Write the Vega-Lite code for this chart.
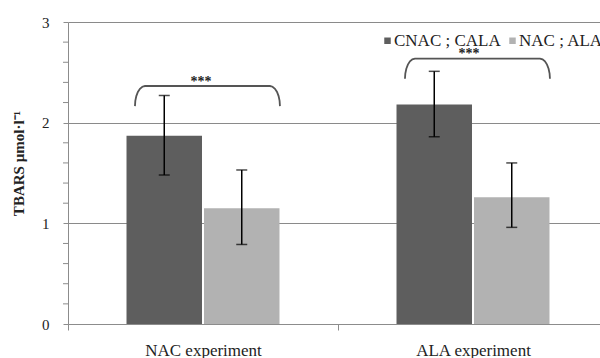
{
  "$schema": "https://vega.github.io/schema/vega-lite/v6.json",
  "autosize": {"type": "none"},
  "padding": {"left": 68, "top": 22, "right": 0, "bottom": 34},
  "width": 532,
  "height": 302,
  "background": "white",
  "config": {
    "view": {"stroke": null},
    "font": "'Liberation Serif', 'Times New Roman', serif"
  },
  "datasets": {
    "bars": [
      {"exp": "NAC experiment", "grp": "CNAC ; CALA", "v": 1.87, "lo": 1.48, "hi": 2.27},
      {"exp": "NAC experiment", "grp": "NAC ; ALA", "v": 1.15, "lo": 0.79, "hi": 1.53},
      {"exp": "ALA experiment", "grp": "CNAC ; CALA", "v": 2.18, "lo": 1.86, "hi": 2.51},
      {"exp": "ALA experiment", "grp": "NAC ; ALA", "v": 1.26, "lo": 0.96, "hi": 1.60}
    ],
    "minor": [{"m": 0.2}, {"m": 0.4}, {"m": 0.6}, {"m": 0.8}, {"m": 1.2}, {"m": 1.4}, {"m": 1.6}, {"m": 1.8}, {"m": 2.2}, {"m": 2.4}, {"m": 2.6}, {"m": 2.8}],
    "brackets": [
      {"b": "NAC", "k": 0, "x": 0.248, "y": 2.164},
      {"b": "NAC", "k": 1, "x": 0.2493, "y": 2.216},
      {"b": "NAC", "k": 2, "x": 0.253, "y": 2.264},
      {"b": "NAC", "k": 3, "x": 0.2588, "y": 2.305},
      {"b": "NAC", "k": 4, "x": 0.2665, "y": 2.337},
      {"b": "NAC", "k": 5, "x": 0.2754, "y": 2.357},
      {"b": "NAC", "k": 6, "x": 0.285, "y": 2.364},
      {"b": "NAC", "k": 7, "x": 0.748, "y": 2.364},
      {"b": "NAC", "k": 8, "x": 0.7576, "y": 2.357},
      {"b": "NAC", "k": 9, "x": 0.7665, "y": 2.337},
      {"b": "NAC", "k": 10, "x": 0.7742, "y": 2.305},
      {"b": "NAC", "k": 11, "x": 0.78, "y": 2.264},
      {"b": "NAC", "k": 12, "x": 0.7837, "y": 2.216},
      {"b": "NAC", "k": 13, "x": 0.785, "y": 2.164},
      {"b": "ALA", "k": 0, "x": 1.248, "y": 2.436},
      {"b": "ALA", "k": 1, "x": 1.2493, "y": 2.488},
      {"b": "ALA", "k": 2, "x": 1.253, "y": 2.536},
      {"b": "ALA", "k": 3, "x": 1.2588, "y": 2.577},
      {"b": "ALA", "k": 4, "x": 1.2665, "y": 2.609},
      {"b": "ALA", "k": 5, "x": 1.2754, "y": 2.629},
      {"b": "ALA", "k": 6, "x": 1.285, "y": 2.636},
      {"b": "ALA", "k": 7, "x": 1.748, "y": 2.636},
      {"b": "ALA", "k": 8, "x": 1.7576, "y": 2.629},
      {"b": "ALA", "k": 9, "x": 1.7665, "y": 2.609},
      {"b": "ALA", "k": 10, "x": 1.7742, "y": 2.577},
      {"b": "ALA", "k": 11, "x": 1.78, "y": 2.536},
      {"b": "ALA", "k": 12, "x": 1.7837, "y": 2.488},
      {"b": "ALA", "k": 13, "x": 1.785, "y": 2.436}
    ],
    "stars": [
      {"x": 0.493, "y": 2.367, "t": "***"},
      {"x": 1.485, "y": 2.64, "t": "***"}
    ]
  },
  "layer": [
    {
      "layer": [
        {
          "data": {"name": "bars"},
          "mark": {"type": "bar"},
          "encoding": {
            "x": {
              "field": "exp", "type": "nominal", "sort": ["NAC experiment", "ALA experiment"],
              "scale": {"range": [0, 540], "paddingInner": 0, "paddingOuter": 0},
              "axis": {
                "title": null, "labelAngle": 0, "tickBand": "extent",
                "domainColor": "#8c8c8c", "tickColor": "#8c8c8c", "tickSize": 6,
                "labelFont": "'Liberation Serif', 'Times New Roman', serif", "labelFontSize": 17, "labelColor": "#222222",
                "labelPadding": 12, "grid": false
              }
            },
            "xOffset": {
              "field": "grp", "type": "nominal", "sort": ["CNAC ; CALA", "NAC ; ALA"],
              "scale": {"paddingInner": 0.026, "paddingOuter": 0.755}
            },
            "y": {
              "field": "v", "type": "quantitative",
              "scale": {"domain": [0, 3], "nice": false, "zero": true},
              "axis": {
                "orient": "left",
                "title": "TBARS µmol·l⁻¹",
                "titleFont": "'Liberation Serif', 'Times New Roman', serif", "titleFontSize": 15, "titleFontWeight": "bold",
                "titleColor": "#222222", "titleX": -42, "titleY": 141, "titleAngle": -90,
                "values": [0, 1, 2, 3], "format": "d", "labelOverlap": false,
                "labelFont": "'Liberation Serif', 'Times New Roman', serif", "labelFontSize": 15, "labelColor": "#222222",
                "labelPadding": 14, "tickSize": 5, "tickColor": "#8c8c8c",
                "domainColor": "#8c8c8c",
                "grid": true, "gridColor": "#8a8a8a", "gridWidth": 1
              }
            },
            "color": {
              "field": "grp", "type": "nominal", "sort": ["CNAC ; CALA", "NAC ; ALA"],
              "scale": {"range": ["#5e5e5e", "#b2b2b2"]},
              "legend": {
                "title": null, "orient": "none", "direction": "horizontal",
                "legendX": 311, "legendY": 10,
                "symbolType": "square", "symbolSize": 42, "symbolStrokeWidth": 0,
                "labelFont": "'Liberation Serif', 'Times New Roman', serif", "labelFontSize": 17, "labelColor": "#222222",
                "labelOffset": -2, "columnPadding": 3
              }
            }
          }
        },
        {
          "data": {"name": "bars"},
          "mark": {"type": "rule", "color": "black", "strokeWidth": 1.5},
          "encoding": {
            "x": {"field": "exp", "type": "nominal", "sort": ["NAC experiment", "ALA experiment"]},
            "xOffset": {"field": "grp", "type": "nominal", "sort": ["CNAC ; CALA", "NAC ; ALA"]},
            "y": {"field": "lo", "type": "quantitative"},
            "y2": {"field": "hi"}
          }
        },
        {
          "data": {"name": "bars"},
          "mark": {"type": "tick", "color": "black", "thickness": 1.5, "size": 11},
          "encoding": {
            "x": {"field": "exp", "type": "nominal", "sort": ["NAC experiment", "ALA experiment"]},
            "xOffset": {"field": "grp", "type": "nominal", "sort": ["CNAC ; CALA", "NAC ; ALA"]},
            "y": {"field": "lo", "type": "quantitative"}
          }
        },
        {
          "data": {"name": "bars"},
          "mark": {"type": "tick", "color": "black", "thickness": 1.5, "size": 11},
          "encoding": {
            "x": {"field": "exp", "type": "nominal", "sort": ["NAC experiment", "ALA experiment"]},
            "xOffset": {"field": "grp", "type": "nominal", "sort": ["CNAC ; CALA", "NAC ; ALA"]},
            "y": {"field": "hi", "type": "quantitative"}
          }
        }
      ]
    },
    {
      "layer": [
        {
          "data": {"name": "minor"},
          "mark": {"type": "rule", "color": "#8c8c8c", "strokeWidth": 1},
          "encoding": {
            "x": {"datum": -0.0185, "type": "quantitative", "scale": {"domain": [0, 2], "range": [0, 540], "nice": false, "zero": false}, "axis": null},
            "x2": {"datum": 0},
            "y": {"field": "m", "type": "quantitative"}
          }
        },
        {
          "data": {"name": "brackets"},
          "mark": {"type": "line", "color": "#555555", "strokeWidth": 1.8, "interpolate": "linear"},
          "encoding": {
            "x": {"field": "x", "type": "quantitative"},
            "y": {"field": "y", "type": "quantitative"},
            "detail": {"field": "b"},
            "order": {"field": "k"}
          }
        },
        {
          "data": {"name": "stars"},
          "mark": {"type": "text", "font": "'Liberation Serif', 'Times New Roman', serif", "fontSize": 14, "fontWeight": "bold", "color": "#222222", "baseline": "alphabetic", "align": "center"},
          "encoding": {
            "x": {"field": "x", "type": "quantitative"},
            "y": {"field": "y", "type": "quantitative"},
            "text": {"field": "t"}
          }
        }
      ]
    }
  ],
  "resolve": {"scale": {"x": "independent"}, "axis": {"x": "independent"}}
}
